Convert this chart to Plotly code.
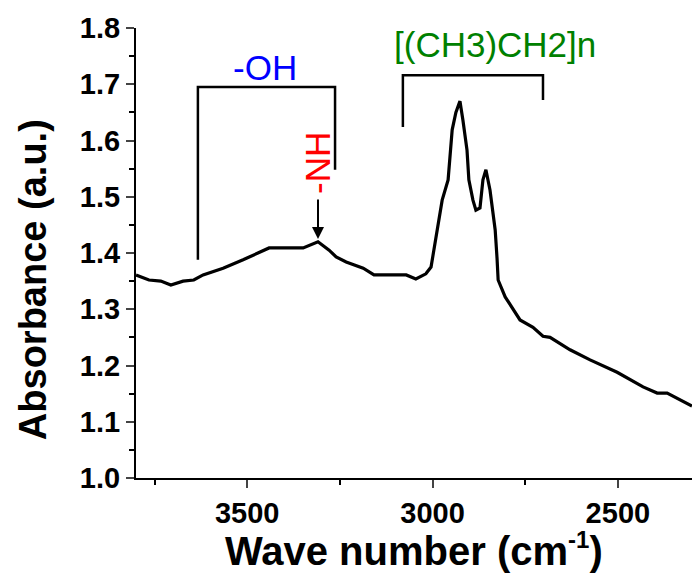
import plotly.graph_objects as go

# Spectrum data (wavenumber cm^-1, absorbance a.u.)
wavenumber = [3800, 3765, 3733, 3706, 3673, 3644, 3619, 3565, 3511, 3476, 3441, 3349,
              3333, 3309, 3279, 3260, 3233, 3187, 3158, 3071, 3045, 3018, 3004, 2996,
              2974, 2958, 2947, 2937, 2926, 2918, 2907, 2902, 2891, 2883, 2872, 2864,
              2856, 2845, 2831, 2826, 2823, 2804, 2777, 2764, 2729, 2702, 2683, 2629,
              2575, 2502, 2432, 2394, 2367, 2300]
absorbance = [1.361, 1.352, 1.350, 1.343, 1.350, 1.352, 1.361, 1.373, 1.388, 1.398, 1.409, 1.409,
              1.414, 1.420, 1.405, 1.393, 1.384, 1.373, 1.361, 1.361, 1.354, 1.363, 1.375, 1.409,
              1.494, 1.530, 1.619, 1.650, 1.670, 1.636, 1.583, 1.530, 1.494, 1.476, 1.480, 1.530,
              1.548, 1.512, 1.441, 1.391, 1.352, 1.322, 1.293, 1.281, 1.268, 1.252, 1.250, 1.228,
              1.210, 1.188, 1.162, 1.151, 1.151, 1.128]

x_ticks = [3500, 3000, 2500]
y_ticks = [1.0, 1.1, 1.2, 1.3, 1.4, 1.5, 1.6, 1.7, 1.8]

# Annotation labels
oh_label = "-OH"
nh_label = "-NH"
ch_label = "[(CH3)CH2]n"

# Bracket definitions: (x_left, x_right, y_top, y_left_end, y_right_end)
oh_bracket = (3633, 3263, 1.695, 1.388, 1.548)
ch_bracket = (3080, 2702, 1.716, 1.624, 1.672)

FONT = "Liberation Sans"

fig = go.Figure()
fig.add_trace(go.Scatter(x=wavenumber, y=absorbance, mode="lines",
                         line=dict(color="black", width=3.2), showlegend=False))

def bracket(b):
    xl, xr, yt, yl, yr = b
    return dict(type="path", xref="x", yref="y",
                path=f"M {xl},{yl} L {xl},{yt} L {xr},{yt} L {xr},{yr}",
                line=dict(color="black", width=2.5))

fig.add_shape(**bracket(oh_bracket))
fig.add_shape(**bracket(ch_bracket))

fig.add_annotation(x=3452, y=1.729, text=oh_label, showarrow=False,
                   font=dict(family=FONT, size=35, color="#0000FF"))
fig.add_annotation(x=2831, y=1.770, text=ch_label, showarrow=False,
                   font=dict(family=FONT, size=35, color="#008000"))
fig.add_annotation(x=3312, y=1.560, text=nh_label, showarrow=False, textangle=-90,
                   font=dict(family=FONT, size=35, color="#FF0000"))
# arrow pointing to -NH peak
fig.add_annotation(x=3309, y=1.425, ax=3309, ay=1.498, xref="x", yref="y",
                   axref="x", ayref="y", text="", showarrow=True,
                   arrowhead=2, arrowsize=1.2, arrowwidth=2, arrowcolor="black")

# axis titles
fig.add_annotation(xref="paper", yref="paper", x=0.5, y=-0.158,
                   text="Wave number (cm<sup><span style='font-size:24px'>-1</span></sup>)",
                   showarrow=False, yanchor="middle",
                   font=dict(family=FONT, size=40, color="black", weight="bold"))
fig.add_annotation(xref="paper", yref="paper", x=-0.185, y=0.44, text="Absorbance (a.u.)",
                   showarrow=False, textangle=-90, xanchor="center",
                   font=dict(family=FONT, size=38, color="black", weight="bold"))

fig.update_xaxes(range=[3800, 2300], tickvals=x_ticks, ticks="outside", ticklen=8, tickwidth=2,
                 showline=True, linecolor="black", linewidth=2, showgrid=False, zeroline=False,
                 tickfont=dict(family=FONT, size=29, color="black", weight="bold"),
                 minor=dict(dtick=250, ticks="outside", ticklen=5, tickwidth=2, tickcolor="black",
                            showgrid=False))
fig.update_yaxes(range=[1.0, 1.8], tickvals=y_ticks, tickformat=".1f", ticks="outside", ticklen=8,
                 tickwidth=2, showline=True, linecolor="black", linewidth=2, showgrid=False,
                 zeroline=False,
                 tickfont=dict(family=FONT, size=29, color="black", weight="bold"),
                 minor=dict(dtick=0.05, ticks="outside", ticklen=5, tickwidth=2, tickcolor="black",
                            showgrid=False))

fig.update_layout(width=696, height=576, margin=dict(l=136, r=4, t=28, b=98),
                  plot_bgcolor="white", paper_bgcolor="white")

fig.write_html("out.html")
